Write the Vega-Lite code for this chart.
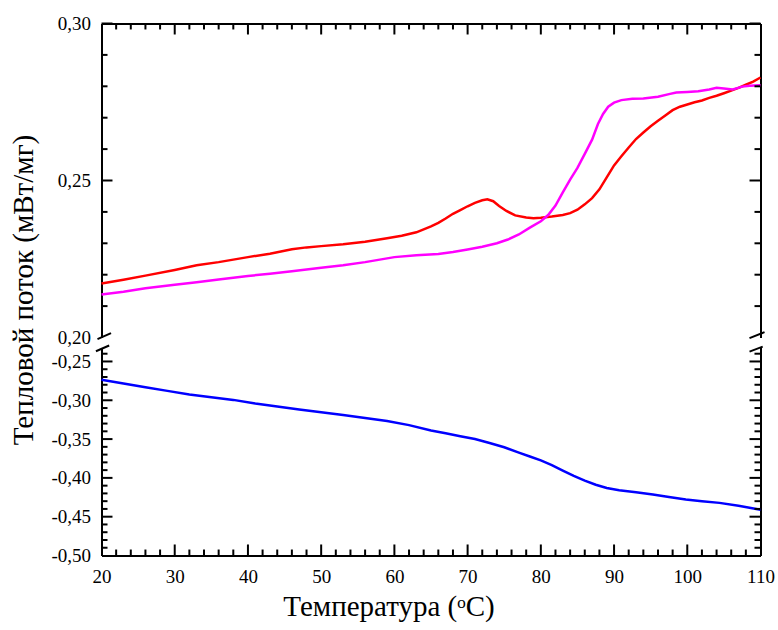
{
  "$schema": "https://vega.github.io/schema/vega-lite/v6.json",
  "padding": {"left": 9.5, "top": 14.5, "right": 2, "bottom": 2},
  "bounds": "flush",
  "spacing": 10,
  "config": {
    "font": "Liberation Serif",
    "view": {"stroke": null},
    "axis": {
      "labelFont": "Liberation Serif",
      "titleFont": "Liberation Serif",
      "labelFontSize": 19,
      "titleFontSize": 29,
      "titleFontWeight": "normal",
      "labelColor": "#000000",
      "titleColor": "#000000",
      "domainColor": "#000000",
      "domainWidth": 2,
      "ticks": false,
      "grid": false,
      "labelFlush": false,
      "labelOverlap": false,
      "labelBound": false
    },
    "rule": {"color": "#000000", "strokeWidth": 2}
  },
  "datasets": {
    "top": [
      {"T": 20, "v": 0.2172, "s": "r"}, {"T": 23, "v": 0.2184, "s": "r"}, {"T": 26, "v": 0.2197, "s": "r"}, {"T": 30, "v": 0.2215, "s": "r"},
      {"T": 33, "v": 0.2230, "s": "r"}, {"T": 36, "v": 0.2240, "s": "r"}, {"T": 40, "v": 0.2256, "s": "r"}, {"T": 43, "v": 0.2267, "s": "r"},
      {"T": 46, "v": 0.2281, "s": "r"}, {"T": 48, "v": 0.2287, "s": "r"}, {"T": 50, "v": 0.2291, "s": "r"}, {"T": 53, "v": 0.2297, "s": "r"},
      {"T": 56, "v": 0.2305, "s": "r"}, {"T": 59, "v": 0.2316, "s": "r"}, {"T": 61, "v": 0.2324, "s": "r"}, {"T": 63, "v": 0.2335, "s": "r"},
      {"T": 65, "v": 0.2354, "s": "r"}, {"T": 66, "v": 0.2365, "s": "r"}, {"T": 67, "v": 0.2379, "s": "r"}, {"T": 68, "v": 0.2394, "s": "r"},
      {"T": 69, "v": 0.2406, "s": "r"}, {"T": 70, "v": 0.2418, "s": "r"}, {"T": 71, "v": 0.2429, "s": "r"}, {"T": 72, "v": 0.2437, "s": "r"},
      {"T": 72.7, "v": 0.2440, "s": "r"}, {"T": 73.5, "v": 0.2434, "s": "r"}, {"T": 74.3, "v": 0.2419, "s": "r"}, {"T": 75.3, "v": 0.2403, "s": "r"},
      {"T": 76.5, "v": 0.2389, "s": "r"}, {"T": 78, "v": 0.2382, "s": "r"}, {"T": 79, "v": 0.2380, "s": "r"}, {"T": 80, "v": 0.2381, "s": "r"},
      {"T": 81.5, "v": 0.2385, "s": "r"}, {"T": 83, "v": 0.2390, "s": "r"}, {"T": 84, "v": 0.2396, "s": "r"}, {"T": 85, "v": 0.2407, "s": "r"},
      {"T": 86, "v": 0.2424, "s": "r"}, {"T": 87, "v": 0.2444, "s": "r"}, {"T": 88, "v": 0.2472, "s": "r"}, {"T": 89, "v": 0.2510, "s": "r"},
      {"T": 90, "v": 0.2548, "s": "r"}, {"T": 91, "v": 0.2577, "s": "r"}, {"T": 92, "v": 0.2605, "s": "r"}, {"T": 93, "v": 0.2632, "s": "r"},
      {"T": 94, "v": 0.2653, "s": "r"}, {"T": 95, "v": 0.2673, "s": "r"}, {"T": 96, "v": 0.2690, "s": "r"}, {"T": 97, "v": 0.2707, "s": "r"},
      {"T": 98, "v": 0.2724, "s": "r"}, {"T": 99, "v": 0.2735, "s": "r"}, {"T": 100, "v": 0.2742, "s": "r"}, {"T": 101, "v": 0.2749, "s": "r"},
      {"T": 102, "v": 0.2755, "s": "r"}, {"T": 103, "v": 0.2763, "s": "r"}, {"T": 104, "v": 0.2770, "s": "r"}, {"T": 105, "v": 0.2778, "s": "r"},
      {"T": 106, "v": 0.2786, "s": "r"}, {"T": 107, "v": 0.2795, "s": "r"}, {"T": 108, "v": 0.2805, "s": "r"}, {"T": 109, "v": 0.2815, "s": "r"},
      {"T": 110, "v": 0.2828, "s": "r"},
      {"T": 20, "v": 0.2137, "s": "m"}, {"T": 23, "v": 0.2146, "s": "m"}, {"T": 26, "v": 0.2157, "s": "m"}, {"T": 30, "v": 0.2168, "s": "m"},
      {"T": 33, "v": 0.2176, "s": "m"}, {"T": 36, "v": 0.2185, "s": "m"}, {"T": 40, "v": 0.2196, "s": "m"}, {"T": 43, "v": 0.2203, "s": "m"},
      {"T": 46, "v": 0.2211, "s": "m"}, {"T": 50, "v": 0.2222, "s": "m"}, {"T": 53, "v": 0.2230, "s": "m"}, {"T": 56, "v": 0.2240, "s": "m"},
      {"T": 60, "v": 0.2256, "s": "m"}, {"T": 63, "v": 0.2262, "s": "m"}, {"T": 66, "v": 0.2266, "s": "m"}, {"T": 68, "v": 0.2272, "s": "m"},
      {"T": 70, "v": 0.2280, "s": "m"}, {"T": 72, "v": 0.2289, "s": "m"}, {"T": 74, "v": 0.2300, "s": "m"}, {"T": 75.5, "v": 0.2312, "s": "m"},
      {"T": 77, "v": 0.2328, "s": "m"}, {"T": 78.5, "v": 0.2350, "s": "m"}, {"T": 80, "v": 0.2370, "s": "m"}, {"T": 81, "v": 0.2390, "s": "m"},
      {"T": 82, "v": 0.2420, "s": "m"}, {"T": 83, "v": 0.2462, "s": "m"}, {"T": 84, "v": 0.2503, "s": "m"}, {"T": 85, "v": 0.2540, "s": "m"},
      {"T": 86, "v": 0.2585, "s": "m"}, {"T": 87, "v": 0.2630, "s": "m"}, {"T": 87.8, "v": 0.2680, "s": "m"}, {"T": 88.5, "v": 0.2712, "s": "m"},
      {"T": 89.2, "v": 0.2735, "s": "m"}, {"T": 90, "v": 0.2748, "s": "m"}, {"T": 91, "v": 0.2756, "s": "m"}, {"T": 92.5, "v": 0.2760, "s": "m"},
      {"T": 94, "v": 0.2761, "s": "m"}, {"T": 96, "v": 0.2767, "s": "m"}, {"T": 97.5, "v": 0.2775, "s": "m"}, {"T": 98.5, "v": 0.2780, "s": "m"},
      {"T": 100, "v": 0.2782, "s": "m"}, {"T": 101.5, "v": 0.2784, "s": "m"}, {"T": 103, "v": 0.2790, "s": "m"}, {"T": 104, "v": 0.2795, "s": "m"},
      {"T": 105, "v": 0.2793, "s": "m"}, {"T": 106.2, "v": 0.2790, "s": "m"}, {"T": 107.5, "v": 0.2799, "s": "m"}, {"T": 108.5, "v": 0.2802, "s": "m"},
      {"T": 110, "v": 0.2803, "s": "m"}
    ],
    "bottom": [
      {"T": 20, "v": -0.2735}, {"T": 23, "v": -0.2783}, {"T": 26, "v": -0.2831}, {"T": 29, "v": -0.2879}, {"T": 32, "v": -0.2926},
      {"T": 35, "v": -0.2960}, {"T": 38, "v": -0.2995}, {"T": 41, "v": -0.3042}, {"T": 44, "v": -0.3080}, {"T": 47, "v": -0.3118},
      {"T": 50, "v": -0.3154}, {"T": 53, "v": -0.3190}, {"T": 56, "v": -0.3228}, {"T": 59, "v": -0.3268}, {"T": 62, "v": -0.3320},
      {"T": 65, "v": -0.3390}, {"T": 67, "v": -0.3425}, {"T": 69, "v": -0.3463}, {"T": 71, "v": -0.3500}, {"T": 73, "v": -0.3550},
      {"T": 75, "v": -0.3605}, {"T": 77, "v": -0.3675}, {"T": 78.5, "v": -0.3725}, {"T": 80, "v": -0.3775}, {"T": 81.5, "v": -0.3835},
      {"T": 83, "v": -0.3905}, {"T": 84.5, "v": -0.3975}, {"T": 86, "v": -0.4035}, {"T": 87.5, "v": -0.4088}, {"T": 89, "v": -0.4130},
      {"T": 90.7, "v": -0.4160}, {"T": 93, "v": -0.4185}, {"T": 95.3, "v": -0.4214}, {"T": 97.5, "v": -0.4245}, {"T": 99.8, "v": -0.4279},
      {"T": 102, "v": -0.4300}, {"T": 104.4, "v": -0.4322}, {"T": 107, "v": -0.4360}, {"T": 110, "v": -0.4410}
    ],
    "breaksTop": [
      {"T": 19.45, "T2": 21.3, "v": 0.1995, "v2": 0.2014},
      {"T": 108.5, "T2": 110.55, "v": 0.1998, "v2": 0.2017}
    ],
    "breaksBottom": [
      {"T": 19.24, "T2": 21.05, "v": -0.2368, "v2": -0.2294},
      {"T": 108.5, "T2": 110.3, "v": -0.2373, "v2": -0.2309}
    ],
    "xMajor": [{"t": 30}, {"t": 40}, {"t": 50}, {"t": 60}, {"t": 70}, {"t": 80}, {"t": 90}, {"t": 100}],
    "xMinor": [
      {"t": 22}, {"t": 24}, {"t": 26}, {"t": 28}, {"t": 32}, {"t": 34}, {"t": 36}, {"t": 38}, {"t": 42}, {"t": 44}, {"t": 46}, {"t": 48},
      {"t": 52}, {"t": 54}, {"t": 56}, {"t": 58}, {"t": 62}, {"t": 64}, {"t": 66}, {"t": 68}, {"t": 72}, {"t": 74}, {"t": 76}, {"t": 78},
      {"t": 82}, {"t": 84}, {"t": 86}, {"t": 88}, {"t": 92}, {"t": 94}, {"t": 96}, {"t": 98}, {"t": 102}, {"t": 104}, {"t": 106}, {"t": 108}
    ],
    "yTopMajor": [{"t": 0.25}, {"t": 0.3}],
    "yTopMinor": [{"t": 0.21}, {"t": 0.22}, {"t": 0.23}, {"t": 0.24}, {"t": 0.26}, {"t": 0.27}, {"t": 0.28}, {"t": 0.29}],
    "yBotMajor": [{"t": -0.45}, {"t": -0.4}, {"t": -0.35}, {"t": -0.3}, {"t": -0.25}],
    "yBotMinor": [
      {"t": -0.49}, {"t": -0.48}, {"t": -0.47}, {"t": -0.46}, {"t": -0.44}, {"t": -0.43}, {"t": -0.42}, {"t": -0.41},
      {"t": -0.39}, {"t": -0.38}, {"t": -0.37}, {"t": -0.36}, {"t": -0.34}, {"t": -0.33}, {"t": -0.32}, {"t": -0.31},
      {"t": -0.29}, {"t": -0.28}, {"t": -0.27}, {"t": -0.26}, {"t": -0.24}
    ]
  },
  "vconcat": [
    {
      "width": 659,
      "height": 314,
      "resolve": {"axis": {"x": "independent", "y": "independent"}},
      "layer": [
        {
          "data": {"name": "top"},
          "mark": {"type": "line", "strokeWidth": 2.5},
          "encoding": {
            "x": {
              "field": "T", "type": "quantitative",
              "scale": {"domain": [20, 110], "nice": false, "zero": false},
              "axis": {"orient": "top", "title": null, "labels": false, "values": [20, 110]}
            },
            "y": {
              "field": "v", "type": "quantitative",
              "scale": {"domain": [0.2, 0.3], "nice": false, "zero": false},
              "axis": {
                "orient": "left",
                "title": "Тепловой поток (мВт/мг)",
                "titleX": -78, "titleY": 266, "titleBaseline": "middle", "titleAlign": "center", "titleAngle": 270,
                "values": [0.2, 0.25, 0.3],
                "labelExpr": "replace(format(datum.value, '.2f'), '.', ',')",
                "labelPadding": 11
              }
            },
            "color": {
              "field": "s", "type": "nominal",
              "scale": {"domain": ["r", "m"], "range": ["#ff0000", "#ff00ff"]},
              "legend": null
            }
          }
        },
        {
          "data": {"name": "breaksTop"},
          "mark": {"type": "rule"},
          "encoding": {
            "x": {"field": "T", "type": "quantitative", "axis": null},
            "x2": {"field": "T2"},
            "y": {"field": "v", "type": "quantitative", "axis": {"orient": "right", "title": null, "labels": false, "values": [0.2, 0.3]}},
            "y2": {"field": "v2"}
          }
        },
        {
          "data": {"name": "xMajor"},
          "mark": {"type": "rule"},
          "encoding": {
            "x": {"field": "t", "type": "quantitative", "axis": null},
            "y": {"datum": 0.3, "axis": null},
            "y2": {"datum": 0.2965}
          }
        },
        {
          "data": {"name": "xMinor"},
          "mark": {"type": "rule"},
          "encoding": {
            "x": {"field": "t", "type": "quantitative", "axis": null},
            "y": {"datum": 0.3, "axis": null},
            "y2": {"datum": 0.2981}
          }
        },
        {
          "data": {"name": "yTopMajor"},
          "mark": {"type": "rule"},
          "encoding": {
            "y": {"field": "t", "type": "quantitative", "axis": null},
            "x": {"datum": 20, "axis": null},
            "x2": {"datum": 21.5}
          }
        },
        {
          "data": {"name": "yTopMinor"},
          "mark": {"type": "rule"},
          "encoding": {
            "y": {"field": "t", "type": "quantitative", "axis": null},
            "x": {"datum": 20, "axis": null},
            "x2": {"datum": 20.82}
          }
        },
        {
          "data": {"name": "yTopMajor"},
          "mark": {"type": "rule"},
          "encoding": {
            "y": {"field": "t", "type": "quantitative", "axis": null},
            "x": {"datum": 110, "axis": null},
            "x2": {"datum": 108.5}
          }
        },
        {
          "data": {"name": "yTopMinor"},
          "mark": {"type": "rule"},
          "encoding": {
            "y": {"field": "t", "type": "quantitative", "axis": null},
            "x": {"datum": 110, "axis": null},
            "x2": {"datum": 109.18}
          }
        }
      ]
    },
    {
      "width": 659,
      "height": 208,
      "resolve": {"axis": {"x": "independent", "y": "independent"}},
      "layer": [
        {
          "data": {"name": "bottom"},
          "mark": {"type": "line", "strokeWidth": 2.5, "color": "#0000ff"},
          "encoding": {
            "x": {
              "field": "T", "type": "quantitative",
              "scale": {"domain": [20, 110], "nice": false, "zero": false},
              "axis": {
                "orient": "bottom", "title": "Температура (ᵒC)",
                "values": [20,30,40,50,60,70,80,90,100,110],
                "labelPadding": 12,
                "titleX": 287, "titleY": 60, "titleBaseline": "alphabetic", "titleAlign": "center"
              }
            },
            "y": {
              "field": "v", "type": "quantitative",
              "scale": {"domain": [-0.5, -0.232], "nice": false, "zero": false},
              "axis": {
                "orient": "left", "title": null,
                "values": [-0.5, -0.45, -0.4, -0.35, -0.3, -0.25],
                "labelExpr": "replace(replace(format(datum.value, '.2f'), '.', ','), '−', '-')",
                "labelPadding": 11
              }
            }
          }
        },
        {
          "data": {"name": "breaksBottom"},
          "mark": {"type": "rule"},
          "encoding": {
            "x": {"field": "T", "type": "quantitative", "axis": null},
            "x2": {"field": "T2"},
            "y": {"field": "v", "type": "quantitative", "axis": {"orient": "right", "title": null, "labels": false, "values": [-0.5, -0.25]}},
            "y2": {"field": "v2"}
          }
        },
        {
          "data": {"name": "xMajor"},
          "mark": {"type": "rule"},
          "encoding": {
            "x": {"field": "t", "type": "quantitative", "axis": null},
            "y": {"datum": -0.5, "axis": null},
            "y2": {"datum": -0.4858}
          }
        },
        {
          "data": {"name": "xMinor"},
          "mark": {"type": "rule"},
          "encoding": {
            "x": {"field": "t", "type": "quantitative", "axis": null},
            "y": {"datum": -0.5, "axis": null},
            "y2": {"datum": -0.4923}
          }
        },
        {
          "data": {"name": "yBotMajor"},
          "mark": {"type": "rule"},
          "encoding": {
            "y": {"field": "t", "type": "quantitative", "axis": null},
            "x": {"datum": 20, "axis": null},
            "x2": {"datum": 21.5}
          }
        },
        {
          "data": {"name": "yBotMinor"},
          "mark": {"type": "rule"},
          "encoding": {
            "y": {"field": "t", "type": "quantitative", "axis": null},
            "x": {"datum": 20, "axis": null},
            "x2": {"datum": 20.82}
          }
        },
        {
          "data": {"name": "yBotMajor"},
          "mark": {"type": "rule"},
          "encoding": {
            "y": {"field": "t", "type": "quantitative", "axis": null},
            "x": {"datum": 110, "axis": null},
            "x2": {"datum": 108.5}
          }
        },
        {
          "data": {"name": "yBotMinor"},
          "mark": {"type": "rule"},
          "encoding": {
            "y": {"field": "t", "type": "quantitative", "axis": null},
            "x": {"datum": 110, "axis": null},
            "x2": {"datum": 109.18}
          }
        }
      ]
    }
  ]
}
